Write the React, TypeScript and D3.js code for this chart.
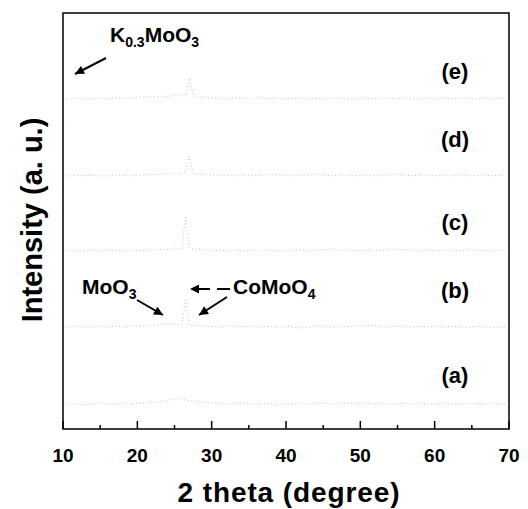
import React, { useEffect, useRef } from 'react';
import * as d3 from 'd3';

// 2 theta sample positions (degree)
const twoTheta = [
  10.5, 11, 12, 13, 14, 15, 16, 17, 18, 19, 20, 21, 22,
  22.5, 23, 23.5, 24, 24.5, 25, 25.5, 26, 26.5, 27, 27.5, 28, 28.5, 29, 29.5, 30,
  31, 32, 33, 34, 35, 36, 37, 38, 39, 40,
  41, 42, 43, 44, 45, 46, 47, 48, 49, 50,
  51, 52, 53, 54, 55, 56, 57, 58, 59, 60,
  61, 62, 63, 64, 65, 66, 67, 68, 69, 69.5,
];

// intensities (a.u.)
const seriesA = [
  0, 1, 0, -1, 0, 1, 0, 0, 1, 0, 1, 1, 2,
  2, 2, 3, 3, 4, 5, 6, 5, 4, 3, 3, 2, 2, 2, 1, 1,
  1, 0, 1, 1, 0, 0, 1, 0, -1, 0,
  0, 1, 0, 1, 1, 0, 1, 1, 0, 1,
  1, 0, 1, 0, 0, 1, 0, 1, 0, 0,
  1, 0, -1, 0, 1, 0, 0, 1, 0, 0,
];
const seriesB = [
  0, 0, 1, 0, 0, 1, 0, 1, 0, 1, 1, 1, 2,
  2, 2, 3, 3, 2, 3, 2, 3, 27, 2, 1, 2, 1, 1, 0, 1,
  0, 1, 1, 0, 1, 0, 1, 0, 0, 1,
  0, -1, 0, 1, 1, 0, 1, 0, 1, 1,
  2, 1, 1, 0, 1, 1, 0, 1, 0, 1,
  0, 0, 1, 0, 0, 1, 0, 0, 0, 0,
];
const seriesC = [
  0, 1, 0, 0, 1, 0, 1, 1, 0, 1, 0, 1, 1,
  1, 2, 1, 2, 2, 3, 2, 3, 34, 3, 2, 1, 2, 1, 1, 0,
  1, 0, 1, 0, 0, 1, 0, 1, 0, 0,
  1, 1, 0, 1, 1, 2, 1, 1, 1, 0,
  1, 0, 1, 1, 2, 1, 1, 0, 1, 0,
  1, 1, 0, 1, 1, 0, 1, 0, 1, 1,
];
const seriesD = [
  0, 0, 1, 0, 1, 0, 0, 1, 1, 0, 1, 1, 2,
  1, 2, 2, 3, 2, 3, 2, 3, 4, 20, 3, 2, 2, 1, 2, 1,
  1, 1, 0, 1, 1, 0, 1, 2, 1, 1,
  0, 1, 1, 2, 1, 0, 1, 1, 0, 1,
  1, 0, 1, 1, 2, 1, 0, 1, 1, 0,
  1, 0, 1, 1, 0, 1, 1, 0, 1, 0,
];
const seriesE = [
  0, 0, 1, 0, 0, 1, 0, 1, 1, 1, 2, 2, 2,
  2, 3, 3, 2, 3, 4, 3, 4, 3, 21, 4, 2, 2, 1, 1, 1,
  1, 0, 1, 1, 0, 1, 1, 0, 1, 0,
  1, 1, 0, 1, 0, 1, 1, 0, 0, 1,
  1, 0, 1, 1, 0, 1, 0, 0, 1, 0,
  1, 0, 1, 1, 0, 0, 1, 0, 1, 0,
];

const seriesNames = ['(a)', '(b)', '(c)', '(d)', '(e)'];
const seriesValues = [seriesA, seriesB, seriesC, seriesD, seriesE];
const seriesOffsets = [25, 102, 178, 253, 330];
const labelLevels = [46, 131, 199, 282, 350];

const majorTicks = [10, 20, 30, 40, 50, 60, 70];
const minorTicks = [15, 25, 35, 45, 55, 65];

const FONT = '"Liberation Sans", Arial, Helvetica, sans-serif';

const App = () => {
  const ref = useRef<SVGSVGElement>(null);

  useEffect(() => {
    const svg = d3.select(ref.current);
    svg.selectAll('*').remove();

    const left = 63, right = 509, top = 13, bottom = 429;
    const x = d3.scaleLinear().domain([10, 70]).range([left, right]);
    const y = d3.scaleLinear().domain([0, 416]).range([bottom, top]);

    const defs = svg.append('defs');
    defs.append('marker')
      .attr('id', 'head')
      .attr('viewBox', '0 0 10 10')
      .attr('refX', 10).attr('refY', 5)
      .attr('markerWidth', 11).attr('markerHeight', 9)
      .attr('markerUnits', 'userSpaceOnUse')
      .attr('orient', 'auto')
      .append('path').attr('d', 'M0,0 L10,5 L0,10 Z').attr('fill', '#000');

    // traces
    const line = d3.line<number>()
      .x((d, i) => x(twoTheta[i]))
      .y(d => d);

    seriesValues.forEach((vals, k) => {
      const pts = vals.map(v => y(seriesOffsets[k] + v));
      svg.append('path')
        .attr('d', line(pts))
        .attr('fill', 'none')
        .attr('stroke', '#bdbdbd')
        .attr('stroke-width', 1)
        .attr('stroke-dasharray', '1 2.5');
      svg.append('text')
        .attr('x', 455)
        .attr('y', y(labelLevels[k]))
        .attr('text-anchor', 'middle')
        .attr('font-family', FONT)
        .attr('font-weight', 'bold')
        .attr('font-size', 22)
        .text(seriesNames[k]);
    });

    // frame
    svg.append('rect')
      .attr('x', left).attr('y', top)
      .attr('width', right - left).attr('height', bottom - top)
      .attr('fill', 'none').attr('stroke', '#000').attr('stroke-width', 1.5);

    // ticks (inward)
    svg.append('g').selectAll('line').data(majorTicks).enter().append('line')
      .attr('x1', d => x(d)).attr('x2', d => x(d))
      .attr('y1', bottom).attr('y2', bottom - 8)
      .attr('stroke', '#000').attr('stroke-width', 1.5);
    svg.append('g').selectAll('line').data(minorTicks).enter().append('line')
      .attr('x1', d => x(d)).attr('x2', d => x(d))
      .attr('y1', bottom).attr('y2', bottom - 4)
      .attr('stroke', '#000').attr('stroke-width', 1.5);
    svg.append('g').selectAll('text').data(majorTicks).enter().append('text')
      .attr('x', d => x(d)).attr('y', 462)
      .attr('text-anchor', 'middle')
      .attr('font-family', FONT).attr('font-weight', 'bold').attr('font-size', 19)
      .text(d => d);

    // axis titles
    svg.append('text')
      .attr('x', 289).attr('y', 502)
      .attr('text-anchor', 'middle')
      .attr('font-family', FONT).attr('font-weight', 'bold').attr('font-size', 28)
      .attr('letter-spacing', 0.9)
      .text('2 theta (degree)');
    svg.append('text')
      .attr('transform', 'translate(42,220) rotate(-90)')
      .attr('text-anchor', 'middle')
      .attr('font-family', FONT).attr('font-weight', 'bold').attr('font-size', 29)
      .text('Intensity (a. u.)');

    // phase annotations, subscripts as shifted tspans
    const chem = (xPos: number, yPos: number, parts: [string, boolean][]) => {
      const t = svg.append('text')
        .attr('x', xPos).attr('y', yPos)
        .attr('font-family', FONT).attr('font-weight', 'bold').attr('font-size', 21);
      let shifted = false;
      parts.forEach(([s, sub]) => {
        const span = t.append('tspan').text(s);
        if (sub && !shifted) { span.attr('font-size', 14).attr('dy', 5); shifted = true; }
        else if (!sub && shifted) { span.attr('dy', -5); shifted = false; }
      });
    };
    chem(110, 42, [['K', false], ['0.3', true], ['MoO', false], ['3', true]]);
    chem(82, 294, [['MoO', false], ['3', true]]);
    chem(233, 294, [['CoMoO', false], ['4', true]]);

    const arrow = (x1: number, y1: number, x2: number, y2: number, dash?: string) => {
      const l = svg.append('line')
        .attr('x1', x1).attr('y1', y1).attr('x2', x2).attr('y2', y2)
        .attr('stroke', '#000').attr('stroke-width', 2)
        .attr('marker-end', 'url(#head)');
      if (dash) l.attr('stroke-dasharray', dash);
    };
    arrow(106, 58, 75, 74);
    arrow(137, 300, 163, 315);
    arrow(227, 297, 199, 315);
    arrow(230, 289, 190, 289, '13 7');
  }, []);

  return (
    <svg ref={ref} width={528} height={509}
      style={{ position: 'absolute', left: 0, top: 0, background: '#fff' }} />
  );
};

export default App;
